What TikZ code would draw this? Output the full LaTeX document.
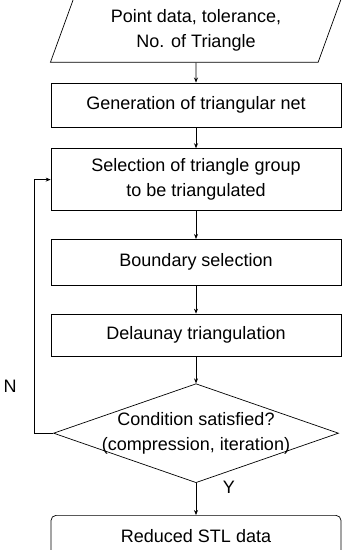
\documentclass[tikz,border=0pt]{standalone}
\usepackage{fontspec}
\setmainfont{Liberation Sans}
\usetikzlibrary{arrows.meta, positioning, shapes.geometric}

\begin{document}
\begin{tikzpicture}[
        node distance=20pt,
        every node/.style={font=\fontsize{18}{25}\selectfont},
        block/.style={rectangle, draw, align=center, minimum width=290pt, inner sep=2pt},
        datablock/.style={trapezium, draw, trapezium left angle=70, trapezium right angle=110, align=center, minimum width=292pt, minimum height=56pt, inner sep=2pt},
        decision/.style={diamond, draw, minimum width=285pt, minimum height=99pt, inner sep=0pt},
        arrow/.style={-{Stealth[length=5pt, width=4pt]}, line width=0.7pt},
        line width=0.7pt
    ]
        \useasboundingbox (0,0) rectangle (342pt,-550pt);

        \node[datablock] (in) at (196pt,-30pt) {Point data, tolerance,\\No. of Triangle};
        \node[block, minimum height=44pt, below=20pt of in] (gen) {Generation of triangular net};
        \node[block, minimum height=62pt, below=21pt of gen] (sel) {Selection of triangle group\\to be triangulated};
        \node[block, minimum height=46pt, below=28pt of sel] (bnd) {Boundary selection};
        \node[block, minimum height=42pt, below=28pt of bnd] (del) {Delaunay triangulation};
        \node[decision, below=27pt of del] (cond) {};
        \node[align=center] (condtxt) at (cond) {Condition satisfied?\\(compression, iteration)};
        \node[block, rounded corners=5pt, minimum height=42pt, below=32pt of cond] (out) {Reduced STL data};
        \node (yes) at (229pt,-487pt) {Y};
        \node (no) at (10pt,-386pt) {N};

        \draw[arrow] (in) -- (gen);
        \draw[arrow] (gen) -- (sel);
        \draw[arrow] (sel) -- (bnd);
        \draw[arrow] (bnd) -- (del);
        \draw[arrow] (del) -- (cond);
        \draw[arrow] (cond) -- (out);
        \draw[arrow] (cond.west) -- ++(-19pt,0) |- (sel.west);
    \end{tikzpicture}
\end{document}
